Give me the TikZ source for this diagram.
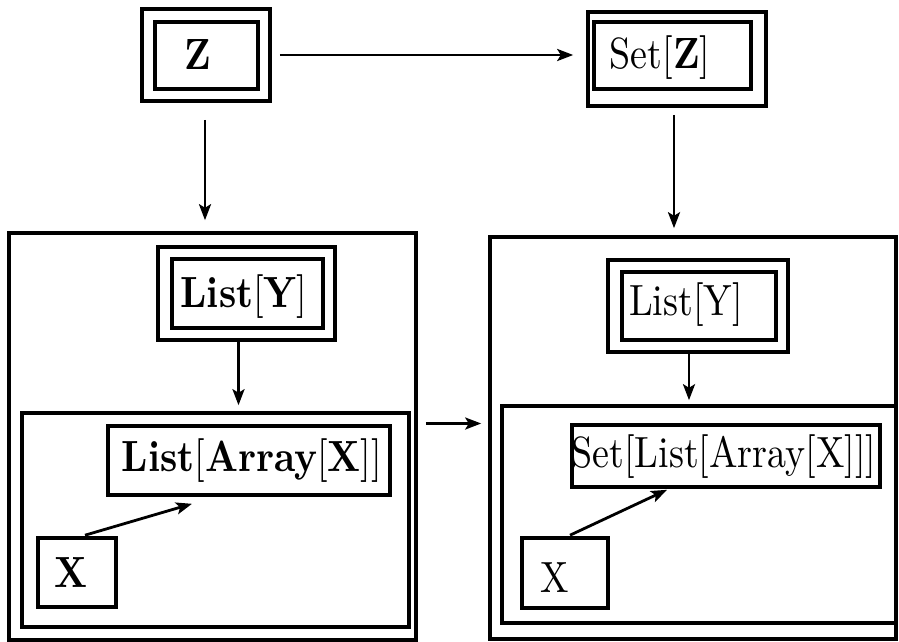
\documentclass[tikz,border=0pt]{standalone}
\usepackage{fontspec}
\usepackage{graphicx}
\usetikzlibrary{arrows.meta,fit,calc}
\newcommand{\tall}[1]{\scalebox{1}[1.15]{#1}}
\begin{document}
\begin{tikzpicture}[x=0.25pt,y=-0.25pt,
  frame/.style={draw,line width=0.9pt,inner sep=0pt,fit={#1}},
  lbl/.style={inner sep=0pt,font=\fontsize{9.5}{11}\selectfont},
  arr/.style={line width=0.7pt,-{Stealth[length=4pt,width=3pt,inset=0.9pt]}}]
\useasboundingbox (0,0) rectangle (899,642);

% top row: Z and Set[Z]
\node[frame={(142,9)(270,101)}] (zo) {};
\node[frame={(155,22)(258,89)}] (zi) {};
\node[lbl] (zt) at (198,55) {\tall{\textbf{Z}}};

\node[frame={(588,12)(766,106)}] (so) {};
\node[frame={(594,22)(751,89)}] (si) {};
\node[lbl] (st) at (660,58) {\tall{Set[\textbf{Z}]}};

% left compartment
\node[frame={(9,233)(416,640)}] (lb) {};
\node[frame={(158,247)(335,340)}] (lyo) {};
\node[frame={(172,259)(323,328)}] (lyi) {};
\node[lbl] (lyt) at (244,297) {\tall{\textbf{List}[\textbf{Y}]}};
\node[frame={(22,413)(409,627)}] (li) {};
\node[frame={(108,426)(390,495)}] (la) {};
\node[lbl] (lat) at (252,461) {\tall{\textbf{List}[\textbf{Array}[\textbf{X}]]}};
\node[frame={(38,538)(116,607)}] (lx) {};
\node[lbl] (lxt) at (71,573) {\tall{\textbf{X}}};

% right compartment
\node[frame={(490,237)(896,639)}] (rb) {};
\node[frame={(608,260)(788,352)}] (ryo) {};
\node[frame={(622,272)(776,340)}] (ryi) {};
\node[lbl] (ryt) at (686,305) {\tall{List[Y]}};
\node[frame={(502,406)(896,623)}] (ri) {};
\node[frame={(572,425)(880,487)}] (sa) {};
\node[lbl] (sat) at (724,457) {\tall{Set[List[Array[X]]]}};
\node[frame={(522,538)(608,608)}] (rx) {};
\node[lbl] (rxt) at (555,578) {\tall{X}};

% connectors
\draw[arr] ($(zo.east)+(8,0)$) -- ($(zo.east -| so.west)+(-13,0)$);
\draw[arr] ($(zo.south)+(-1,17)$) -- ($(zo.south |- lb.north)+(-1,-11)$);
\draw[arr] ($(so.south)+(-3,7)$) -- ($(so.south |- rb.north)+(-3,-7)$);
\draw[arr] ($(lyo.south)+(-8,0)$) -- ($(lyo.south |- li.north)+(-8,-6)$);
\draw[arr] ($(ryo.south)+(-9,0)$) -- ($(ryo.south |- ri.north)+(-9,-4)$);
\draw[arr] ($(lb.east)+(8,-13)$) -- ($(lb.east -| rb.west)+(-7,-13)$);
\draw[arr] ($(lx.north)+(8,-1)$) -- ($(la.south)+(-57,7)$);
\draw[arr] ($(rx.north)+(5,-1)$) -- ($(sa.south)+(-59,1)$);
\end{tikzpicture}
\end{document}
